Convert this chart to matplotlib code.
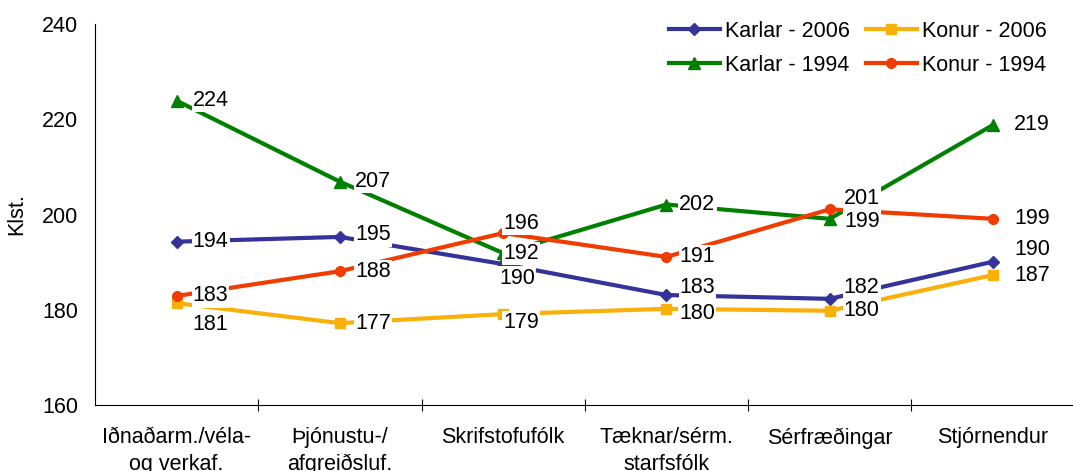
import numpy as np
import matplotlib
matplotlib.use("Agg")
import matplotlib.pyplot as plt

plt.rcParams['font.family'] = ['Liberation Sans', 'DejaVu Sans']

categories = ["Iðnaðarm./véla-\nog verkaf.", "Þjónustu-/\nafgreiðsluf.", "Skrifstofufólk",
              "Tæknar/sérm.\nstarfsfólk", "Sérfræðingar", "Stjórnendur"]

karlar_2006 = [194.3, 195.3, 189.6, 183.1, 182.3, 190.1]
konur_2006 = [181.4, 177.2, 179.1, 180.2, 179.8, 187.3]
karlar_1994 = [223.9, 206.9, 191.9, 202.1, 199.1, 218.8]
konur_1994 = [182.9, 188.1, 196.1, 191.1, 201.1, 199.1]

# label offsets in pixels (dx, dy) for each point
off_k06 = [(34, 0), (33, 2), (14, -14), (31, 8), (32, 11), (39, 12)]
off_w06 = [(34, -21), (33, 0), (18, -8), (31, -5), (32, 0), (39, 0)]
off_k94 = [(34, 0), (33, 0), (18, 0), (31, 0), (32, -3), (39, 0)]
off_w94 = [(34, 0), (33, 0), (18, 10), (31, 0), (32, 11), (39, 0)]

series = [
    ("Karlar - 2006", karlar_2006, "#333399", "D", 6, off_k06),
    ("Konur - 2006", konur_2006, "#F9B10A", "s", 7, off_w06),
    ("Karlar - 1994", karlar_1994, "#008000", "^", 8, off_k94),
    ("Konur - 1994", konur_1994, "#F03C00", "o", 7, off_w94),
]

FS = 15.5

fig = plt.figure(figsize=(10.73, 4.71), dpi=100)
ax = fig.add_axes([0.0885, 0.140, 0.913, 0.809])

x = np.arange(len(categories))
lines = {}
for name, vals, col, mk, ms, offs in series:
    lines[name], = ax.plot(x, vals, color=col, lw=3, marker=mk, markersize=ms, label=name, zorder=2)

# value labels drawn after all lines so boxes cover them
for name, vals, col, mk, ms, offs in series:
    for xi, v, (dx, dy) in zip(x, vals, offs):
        ax.annotate(f"{round(v):d}", (xi, v), xytext=(dx, dy), textcoords="offset pixels",
                    ha="center", va="center", fontsize=FS, zorder=5,
                    bbox=dict(boxstyle="square,pad=0.05", fc="white", ec="none"))

ax.set_xlim(-0.5, 5.5)
ax.set_ylim(160, 240)
ax.set_yticks([160, 180, 200, 220, 240])
ax.tick_params(axis="y", length=0, pad=12, labelsize=FS)
ax.set_xticks(np.arange(0.5, 5.5, 1.0))
ax.set_xticklabels([])
ax.set_xticks(x, minor=True)
ax.set_xticklabels(categories, minor=True, fontsize=FS, linespacing=1.35)
ax.tick_params(axis="x", which="major", direction="inout", length=8, width=0.8)
ax.tick_params(axis="x", which="minor", length=0, pad=16)
ax.spines["top"].set_visible(False)
ax.spines["right"].set_visible(False)
ax.set_ylabel("Klst.", fontsize=FS, labelpad=11)

order = ["Karlar - 2006", "Karlar - 1994", "Konur - 2006", "Konur - 1994"]
fig.legend([lines[n] for n in order], order, loc="upper left", ncol=2, frameon=False,
           fontsize=FS, handlelength=2.35, handletextpad=0.25, columnspacing=0.75,
           labelspacing=0.6, borderpad=0, borderaxespad=0,
           bbox_to_anchor=(669 / 1073, 1 - 21 / 471))

fig.savefig("out.png", dpi=100)
